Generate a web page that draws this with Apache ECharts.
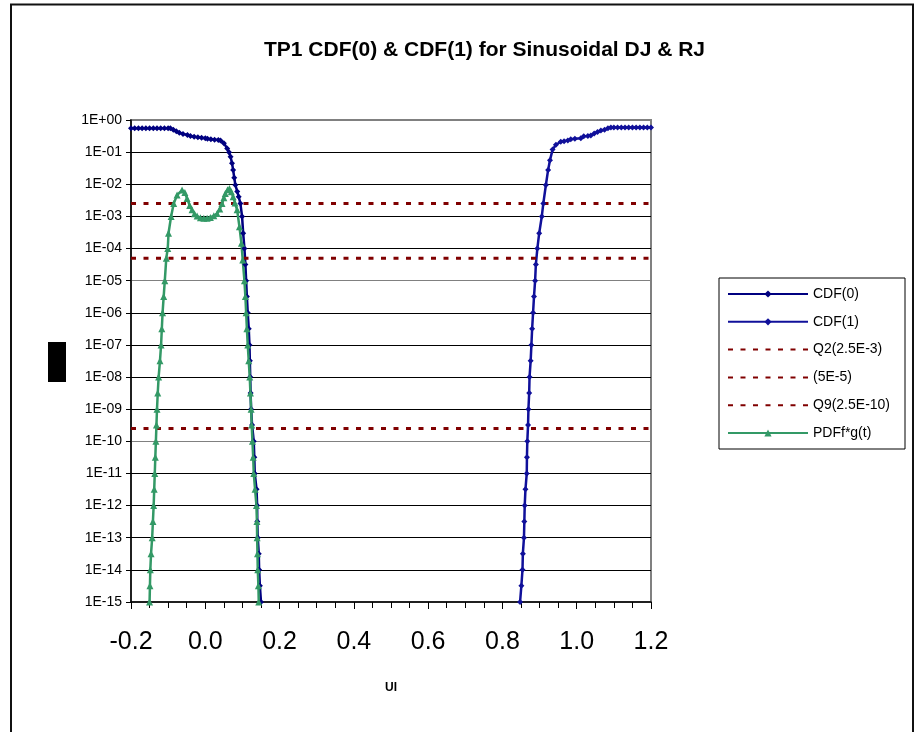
<!DOCTYPE html>
<html>
<head>
<meta charset="utf-8">
<script src="https://cdn.jsdelivr.net/npm/echarts@6/dist/echarts.min.js"></script>
<style>
  html, body { margin: 0; padding: 0; background: #fff; }
  #main { width: 916px; height: 732px; }
</style>
</head>
<body>
<div id="main"></div>
<script>
// x in UI, y = probability
var cdf0X = [-0.20, -0.19, -0.18, -0.17, -0.16, -0.15, -0.14, -0.13, -0.12, -0.11, -0.10, -0.094,
  -0.086, -0.078, -0.070, -0.060, -0.048, -0.040, -0.030, -0.020, -0.010, 0.000, 0.006, 0.015,
  0.025, 0.035, 0.041, 0.050, 0.059, 0.064, 0.068, 0.072, 0.075, 0.078, 0.081, 0.086, 0.090,
  0.0946, 0.099, 0.102, 0.1054, 0.108, 0.110, 0.112, 0.1143, 0.117, 0.119, 0.120, 0.121, 0.122,
  0.1234, 0.126, 0.1305, 0.132, 0.1332, 0.138, 0.1396, 0.140, 0.1413, 0.144, 0.145, 0.147, 0.150];
var cdf0Y = [0.55, 0.55, 0.55, 0.55, 0.55, 0.55, 0.55, 0.55, 0.55, 0.55, 0.55, 0.55,
  0.50, 0.45, 0.40, 0.37, 0.34, 0.32, 0.30, 0.29, 0.28, 0.27, 0.26, 0.25,
  0.245, 0.24, 0.23, 0.19, 0.13, 0.10, 0.072, 0.045, 0.028, 0.016, 0.0095, 0.006, 0.0041,
  2.5e-3, 1e-3, 3e-4, 1e-4, 3.2e-5, 1e-5, 3.2e-6, 1e-6, 3.2e-7, 1e-7, 3.2e-8, 1e-8, 3.2e-9,
  1e-9, 3.2e-10, 1e-10, 3.2e-11, 1e-11, 3.2e-12, 1e-12, 3.2e-13, 1e-13, 3.2e-14, 1e-14, 3.2e-15, 1e-15];

var cdf1X = [0.8475, 0.851, 0.854, 0.855, 0.858, 0.859, 0.860, 0.862, 0.8655, 0.866, 0.867, 0.869,
  0.870, 0.872, 0.873, 0.876, 0.878, 0.880, 0.8825, 0.885, 0.888, 0.890, 0.894, 0.899, 0.906,
  0.910, 0.917, 0.923, 0.928, 0.935, 0.944, 0.957, 0.966, 0.976, 0.984, 0.995, 1.011, 1.019,
  1.030, 1.038, 1.047, 1.056, 1.065, 1.075, 1.084, 1.092, 1.10, 1.11, 1.12, 1.13, 1.14, 1.15,
  1.16, 1.17, 1.18, 1.19, 1.20];
var cdf1Y = [1e-15, 3.2e-15, 1e-14, 3.2e-14, 1e-13, 3.2e-13, 1e-12, 3.2e-12, 1e-11, 3.2e-11, 1e-10, 3.2e-10,
  1e-9, 3.2e-9, 1e-8, 3.2e-8, 1e-7, 3.2e-7, 1e-6, 3.2e-6, 1e-5, 3.2e-5, 1e-4, 3e-4, 1e-3,
  2.5e-3, 9.5e-3, 0.028, 0.056, 0.12, 0.17, 0.21, 0.22, 0.23, 0.25, 0.26, 0.27, 0.31,
  0.32, 0.33, 0.38, 0.42, 0.47, 0.50, 0.55, 0.58, 0.58, 0.58, 0.58, 0.58, 0.58, 0.58,
  0.58, 0.58, 0.58, 0.58, 0.58];

var pdfX = [-0.150, -0.149, -0.148, -0.146, -0.143, -0.141, -0.139, -0.1375, -0.136, -0.1345, -0.133,
  -0.1315, -0.130, -0.128, -0.1256, -0.122, -0.119, -0.117, -0.115, -0.112, -0.109, -0.105, -0.101,
  -0.099, -0.092, -0.085, -0.076, -0.0625, -0.055, -0.049, -0.042, -0.0356, -0.029, -0.022, -0.013,
  -0.004, 0.005, 0.0137, 0.023, 0.0318, 0.039, 0.045, 0.050, 0.054, 0.060, 0.065, 0.070, 0.075,
  0.080, 0.0857, 0.0919, 0.0973, 0.1008, 0.1054, 0.108, 0.110, 0.112, 0.1143, 0.117, 0.1197,
  0.1215, 0.1234, 0.125, 0.127, 0.129, 0.1305, 0.134, 0.1378, 0.139, 0.1396, 0.1405, 0.1413,
  0.143, 0.144];
var pdfY = [1e-15, 3.2e-15, 1e-14, 3.2e-14, 1e-13, 3.2e-13, 1e-12, 3.2e-12, 1e-11, 3.2e-11, 1e-10,
  3.2e-10, 1e-9, 3.2e-9, 1e-8, 3.2e-8, 1e-7, 3.2e-7, 1e-6, 3.2e-6, 1e-5, 5e-5, 1e-4,
  3e-4, 1e-3, 2.5e-3, 4.6e-3, 6.6e-3, 5.5e-3, 3.6e-3, 2.2e-3, 1.6e-3, 1.2e-3, 1.02e-3, 9e-4,
  8.7e-4, 8.8e-4, 9.3e-4, 1.05e-3, 1.23e-3, 1.7e-3, 2.5e-3, 3.8e-3, 5.2e-3, 6.8e-3, 7.4e-3, 5.8e-3, 4.1e-3,
  2.6e-3, 1.6e-3, 4.8e-4, 1.45e-4, 4.4e-5, 1e-5, 3.2e-6, 1e-6, 3.2e-7, 1e-7, 3.2e-8, 1e-8,
  3.2e-9, 1e-9, 3.2e-10, 1e-10, 3.2e-11, 1e-11, 3.2e-12, 1e-12, 3.2e-13, 1e-13, 3.2e-14, 1e-14,
  3.2e-15, 1e-15];

var levelNames = ['Q2(2.5E-3)', '(5E-5)', 'Q9(2.5E-10)'];
var levelValues = [2.5e-3, 5e-5, 2.5e-10];
var xRange = [-0.2, 1.2];

function pairs(xs, ys) {
  return xs.map(function (x, i) { return [x, ys[i]]; });
}

function expLabel(v) {
  var e = Math.round(Math.log10(v));
  var a = Math.abs(e);
  return '1E' + (e < 0 ? '-' : '+') + (a < 10 ? '0' : '') + a;
}

var font = 'Arial, "Liberation Sans", sans-serif';

var series = [
  {
    name: 'CDF(0)', type: 'line', data: pairs(cdf0X, cdf0Y), clip: false,
    symbol: 'diamond', symbolSize: 6,
    lineStyle: { color: '#000080', width: 2.5 },
    itemStyle: { color: '#000080' }
  },
  {
    name: 'CDF(1)', type: 'line', data: pairs(cdf1X, cdf1Y), clip: false,
    symbol: 'diamond', symbolSize: 6,
    lineStyle: { color: '#10109a', width: 2.5 },
    itemStyle: { color: '#10109a' }
  }
];
levelNames.forEach(function (n, i) {
  series.push({
    name: n, type: 'line', symbol: 'none',
    data: [[xRange[0], levelValues[i]], [xRange[1], levelValues[i]]],
    lineStyle: { color: '#800000', width: 3, type: [5, 7.5] },
    itemStyle: { color: '#800000' }
  });
});
series.push({
  name: 'PDFf*g(t)', type: 'line', data: pairs(pdfX, pdfY), clip: false,
  symbol: 'triangle', symbolSize: 7,
  lineStyle: { color: '#339966', width: 2.5 },
  itemStyle: { color: '#339966' }
});

// legend entries; the dotted level lines get no marker
var legendData = ['CDF(0)', 'CDF(1)'].concat(levelNames.map(function (n) {
  return { name: n, itemStyle: { opacity: 0 } };
})).concat(['PDFf*g(t)']);

var option = {
  animation: false,
  backgroundColor: '#fff',
  title: {
    text: 'TP1 CDF(0) & CDF(1) for Sinusoidal DJ & RJ',
    left: 259, top: 35,
    textStyle: { fontFamily: font, fontSize: 21, fontWeight: 'bold', color: '#000' }
  },
  legend: {
    orient: 'vertical',
    left: 719, top: 278,
    padding: [9, 10, 9, 8],
    itemWidth: 80, itemHeight: 9, itemGap: 13.8,
    borderColor: '#000', borderWidth: 1,
    textStyle: { fontFamily: font, fontSize: 14, lineHeight: 14, color: '#000', width: 82 },
    data: legendData
  },
  grid: {
    left: 131, right: 265, top: 120, bottom: 130,
    show: true, borderColor: '#808080', borderWidth: 2, backgroundColor: 'transparent'
  },
  xAxis: {
    type: 'value', min: -0.2, max: 1.2, interval: 0.2,
    name: 'UI', nameLocation: 'middle', nameGap: 80,
    nameTextStyle: { fontFamily: font, fontSize: 12, fontWeight: 'bold', color: '#000' },
    axisLine: { onZero: false, lineStyle: { color: '#000', width: 1.5 } },
    axisTick: { length: 7, lineStyle: { color: '#000' } },
    minorTick: { show: true, splitNumber: 4, length: 6, lineStyle: { color: '#000' } },
    splitLine: { show: false },
    axisLabel: {
      fontFamily: font, fontSize: 25, color: '#000', margin: 28,
      formatter: function (v) { return v.toFixed(1); }
    }
  },
  yAxis: {
    type: 'log', logBase: 10, min: 1e-15, max: 1, interval: 1,
    axisLine: { show: true, onZero: false, lineStyle: { color: '#000', width: 1.5 } },
    axisTick: { show: true, length: 5, lineStyle: { color: '#000' } },
    splitLine: { show: true, lineStyle: { color: ['#808080', '#000', '#000', '#000', '#000'], width: 1 } },
    axisLabel: { fontFamily: font, fontSize: 14, color: '#000', margin: 9, formatter: expLabel }
  },
  graphic: [
    { type: 'rect', shape: { x: 11, y: 4.5, width: 902, height: 740 },
      style: { fill: 'none', stroke: '#111', lineWidth: 2 }, silent: true },
    { type: 'rect', shape: { x: 48, y: 342, width: 18, height: 40 },
      style: { fill: '#000' }, silent: true }
  ],
  series: series
};

var chart = echarts.init(document.getElementById('main'));
chart.setOption(option);
</script>
</body>
</html>
